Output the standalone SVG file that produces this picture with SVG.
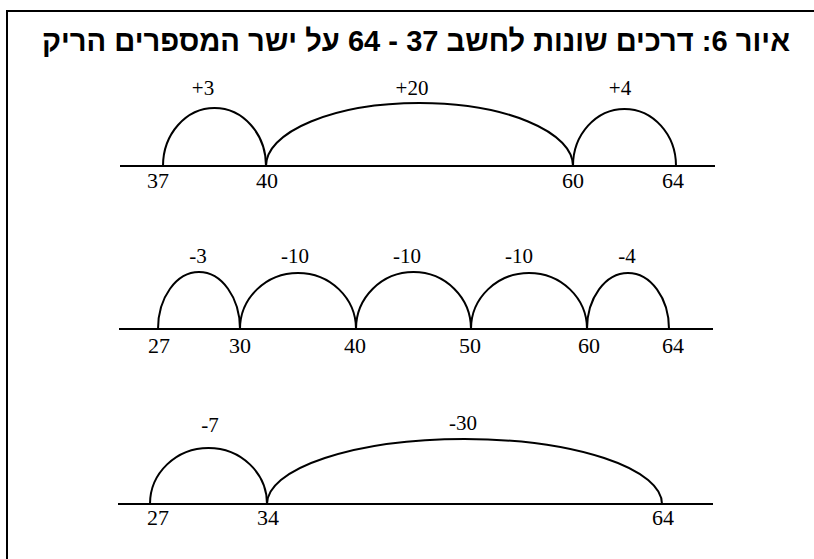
<svg xmlns="http://www.w3.org/2000/svg" width="814" height="559" viewBox="0 0 814 559">
<style>
.title{font-family:"Liberation Sans","DejaVu Sans",sans-serif;font-weight:bold;font-size:30px;fill:#000}
.num{font-family:"Liberation Serif","Times New Roman",serif;font-size:22px;fill:#000;text-anchor:middle}
.lbl{font-family:"Liberation Serif","Times New Roman",serif;font-size:21px;fill:#000;text-anchor:middle}
.axis{stroke:#000;stroke-width:2.2;fill:none}
.arc{stroke:#000;stroke-width:2;fill:none}
</style>
<rect width="814" height="559" fill="#fff"/>
<path d="M7 559 V11 H814" stroke="#000" stroke-width="2" fill="none"/>
<text class="title" x="416" y="51" text-anchor="middle" direction="rtl" textLength="748" lengthAdjust="spacingAndGlyphs">איור 6: דרכים שונות לחשב 37 - 64 על ישר המספרים הריק</text>

<g id="line1">
<line class="axis" x1="120" y1="166" x2="715" y2="166"/>
</g>
<g id="line2">
<line class="axis" x1="119" y1="329" x2="713" y2="329"/>
</g>
<g id="line3">
<line class="axis" x1="118" y1="504" x2="713" y2="504"/>
</g>

<g id="n1-37"><text class="num" x="158" y="188">37</text></g>
<g id="n1-40"><text class="num" x="267" y="188">40</text></g>
<g id="n1-60"><text class="num" x="573" y="188">60</text></g>
<g id="n1-64"><text class="num" x="673" y="188">64</text></g>

<g id="n2-27"><text class="num" x="159" y="353">27</text></g>
<g id="n2-30"><text class="num" x="240" y="353">30</text></g>
<g id="n2-40"><text class="num" x="355" y="353">40</text></g>
<g id="n2-50"><text class="num" x="470" y="353">50</text></g>
<g id="n2-60"><text class="num" x="589" y="353">60</text></g>
<g id="n2-64"><text class="num" x="673" y="353">64</text></g>

<g id="n3-27"><text class="num" x="158" y="525">27</text></g>
<g id="n3-34"><text class="num" x="268" y="525">34</text></g>
<g id="n3-64"><text class="num" x="663" y="525">64</text></g>

<g id="connectors">
<path class="arc" d="M163 166 A51.5 58 0 0 1 266 166"/>
<path class="arc" d="M266 166 A153.5 63 0 0 1 573 166"/>
<path class="arc" d="M573 166 A51.5 57 0 0 1 676 166"/>
<text class="lbl" x="203" y="95">+3</text>
<text class="lbl" x="412" y="95">+20</text>
<text class="lbl" x="620" y="95">+4</text>

<path class="arc" d="M158 329 A41 57 0 0 1 240 329"/>
<path class="arc" d="M240 329 A58 56 0 0 1 356 329"/>
<path class="arc" d="M356 329 A57.5 57 0 0 1 471 329"/>
<path class="arc" d="M471 329 A58 56 0 0 1 587 329"/>
<path class="arc" d="M587 329 A41 56 0 0 1 669 329"/>
<text class="lbl" x="198" y="263">-3</text>
<text class="lbl" x="295" y="263">-10</text>
<text class="lbl" x="407" y="263">-10</text>
<text class="lbl" x="519" y="263">-10</text>
<text class="lbl" x="627" y="263">-4</text>

<path class="arc" d="M150 504 A58.5 56 0 0 1 267 504"/>
<path class="arc" d="M267 504 A197.5 65 0 0 1 662 504"/>
<text class="lbl" x="210" y="432">-7</text>
<text class="lbl" x="463" y="430">-30</text>
</g>
</svg>
